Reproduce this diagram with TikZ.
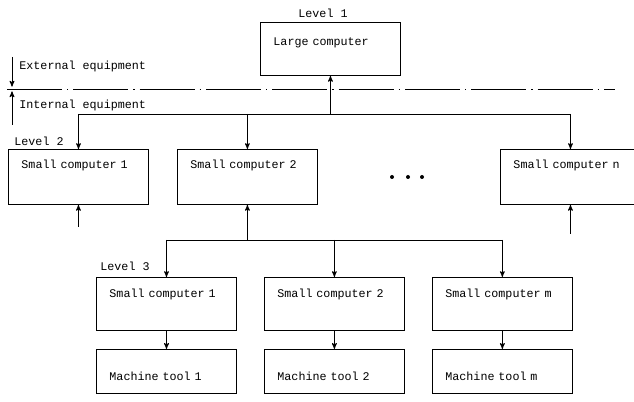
\documentclass[tikz,border=0pt]{standalone}
\usepackage{fontspec}
\setmonofont{Liberation Mono}
\usepackage{tikz}
\usetikzlibrary{ arrows, calc, positioning }
\tikzset{
>=stealth', % makes the arrow heads bold
node distance=0.84cm, % gap between neighbouring boxes
every node/.style={inner sep=1pt, font=\ttfamily\fontsize{10pt}{11pt}\selectfont},
unit/.style 2 args={draw, line width=0.8pt, inner xsep=0.39cm, inner ysep=0pt,
  text width=3.42cm, align=left, text height=#1, text depth=#2}, % box with text near the top
tag/.style={anchor=west},
boundary/.style={line width=0.8pt, dash pattern=on 1.65cm off 0.15cm on 0.04cm off 0.15cm},
wire/.style={line width=0.8pt},
}

\begin{document}
\begin{tikzpicture}[x=0.03cm, y=-0.03cm]
  \useasboundingbox (0,0) rectangle (634,402);

  % level 1
  \node[unit={0.69cm}{0.9cm}, anchor=north west] (big) at (260,22) {Large computer};
  \node (lvl1) at (323,13) {Level 1};

  % boundary between external and internal equipment
  \coordinate (cutl) at (7,89);
  \coordinate (cutr) at (615,89);
  \draw[boundary] (cutl) -- (cutr);
  \coordinate (ext) at (12,57);
  \coordinate (int) at (12,125);
  \coordinate (cut) at (12,89);
  \draw[wire,->,shorten >=2pt] (ext) -- (cut);
  \draw[wire,->,shorten >=2pt] (int) -- (cut);
  \node[tag] (extl) at (18,66) {External equipment};
  \node[tag] (intl) at (18,105) {Internal equipment};

  % level 2
  \node[unit={0.57cm}{1.08cm}, anchor=north west] (sc1) at (8,149) {Small computer 1};
  \node[unit={0.57cm}{1.08cm}, right=of sc1] (sc2) {Small computer 2};
  \node[unit={0.57cm}{1.08cm}, anchor=north west] (scn) at (500,149) {Small computer n};
  \node[tag] (lvl2) at (13,141) {Level 2};
  \foreach \x in {392,408,422}
    \fill (\x,177) circle (2);

  \coordinate (j1) at (big.south |- 0,114);
  \draw[wire,->] (j1) -- (big.south);
  \draw[wire] (j1 -| sc1.north) -- (j1 -| scn.north);
  \foreach \n in {sc1,sc2,scn}
    \draw[wire,->] (j1 -| \n.north) -- (\n.north);
  \coordinate[below=0.66cm of sc1.south] (in1);
  \coordinate[below=0.87cm of scn.south] (inn);
  \draw[wire,->] (in1) -- (sc1.south);
  \draw[wire,->] (inn) -- (scn.south);

  % level 3
  \node[unit={0.6cm}{0.99cm}, anchor=north west] (c1) at (96,277) {Small computer 1};
  \node[unit={0.6cm}{0.99cm}, right=0.81cm of c1] (c2) {Small computer 2};
  \node[unit={0.6cm}{0.99cm}, right=0.81cm of c2] (cm) {Small computer m};
  \node[tag] (lvl3) at (99,266) {Level 3};

  \coordinate (j2) at (sc2.south |- 0,240);
  \draw[wire,->] (j2) -- (sc2.south);
  \draw[wire] (j2 -| c1.north) -- (j2 -| cm.north);
  \foreach \n in {c1,c2,cm}
    \draw[wire,->] (j2 -| \n.north) -- (\n.north);

  % machine tools
  \node[unit={0.93cm}{0.39cm}, below=0.54cm of c1] (t1) {Machine tool 1};
  \node[unit={0.93cm}{0.39cm}, below=0.54cm of c2] (t2) {Machine tool 2};
  \node[unit={0.93cm}{0.39cm}, below=0.54cm of cm] (tm) {Machine tool m};

  \path[wire,->]
  (c1) edge (t1)
  (c2) edge (t2)
  (cm) edge (tm);
\end{tikzpicture}
\end{document}
